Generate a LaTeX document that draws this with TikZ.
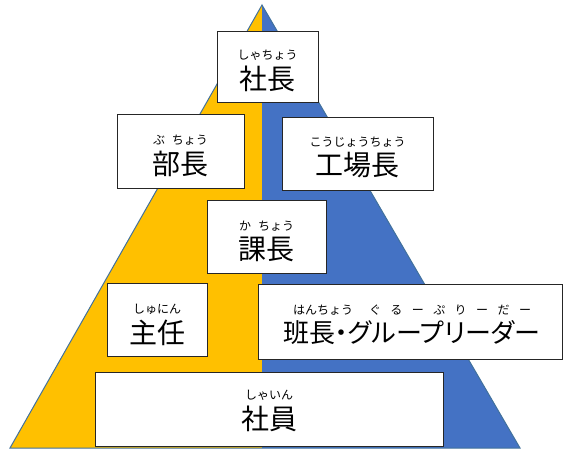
\documentclass[tikz,border=0pt]{standalone}
\usepackage{fontspec}
\setmainfont{Noto Sans CJK JP}
\newfontfamily\jpprop{Noto Sans CJK JP}[RawFeature=+palt]
\usetikzlibrary{positioning}
\definecolor{ofyellow}{HTML}{FFC000}
\definecolor{ofblue}{HTML}{4472C4}
\definecolor{ofline}{HTML}{41719C}

\begin{document}
\begin{tikzpicture}[
    x=1pt, y=-1pt,
    box/.style={rectangle, draw=black!85, line width=0.8pt, fill=white, inner sep=0pt},
    kanji/.style={inner sep=0pt, font=\fontsize{28}{30}\selectfont},
    kana/.style={inner sep=0pt, font=\fontsize{12}{14}\selectfont}
]
    \useasboundingbox (0,0) rectangle (564,450);

    % Pyramid
    \coordinate (top) at (262,5);
    \coordinate (bl) at (10,448);
    \coordinate (bm) at (262,448);
    \coordinate (br) at (520,448);
    \fill[ofyellow] (top) -- (bl) -- (bm) -- cycle;
    \fill[ofblue] (top) -- (bm) -- (br) -- cycle;
    \draw[ofline, line width=1pt] (top) -- (bl) -- (br) -- cycle;

    % Shacho
    \node[box, minimum width=101pt, minimum height=71pt] (shacho) at (267.5,66.5) {};
    \node[kanji] (shacho-t) at ([yshift=-12pt]shacho.center) {社長};
    \node[kana, above=5pt of shacho-t] (shacho-k) {しゃちょう};

    % Bucho and Kojocho
    \node[box, minimum width=127pt, minimum height=74pt] (bucho) at (180.5,151) {};
    \node[kanji] (bucho-t) at ([yshift=-13pt]bucho.center) {部長};
    \node[kana, above=5pt of bucho-t] (bucho-k) {ぶ\hspace{7pt}ちょう};

    \node[box, minimum width=151pt, minimum height=73pt] (kojo) at (357.5,153.5) {};
    \node[kanji] (kojo-t) at ([yshift=-12pt]kojo.center) {工場長};
    \node[kana, above=5pt of kojo-t] (kojo-k) {こうじょうちょう};

    % Kacho
    \node[box, minimum width=119pt, minimum height=73pt] (kacho) at (266.5,236.5) {};
    \node[kanji] (kacho-t) at ([yshift=-13pt]kacho.center) {課長};
    \node[kana, above=5pt of kacho-t] (kacho-k) {か\hspace{7pt}ちょう};

    % Shunin and Hancho
    \node[box, minimum width=100pt, minimum height=73pt] (shunin) at (157,319.5) {};
    \node[kanji] (shunin-t) at ([yshift=-13pt]shunin.center) {主任};
    \node[kana, above=5pt of shunin-t] (shunin-k) {しゅにん};

    \node[box, minimum width=304pt, minimum height=75pt] (hancho) at (410,321.5) {};
    \node[kanji, font=\fontsize{26}{28}\selectfont] (hancho-t) at ([xshift=2pt,yshift=-11pt]hancho.center) {班長{\jpprop ・グループリーダー}};
    \node[kana, above=5pt of hancho-t] (hancho-k) {はんちょう\hspace{16pt}\makebox[162pt][s]{ぐ る ー ぷ り ー だ ー}};

    % Shain
    \node[box, minimum width=348pt, minimum height=74pt] (shain) at (269,409) {};
    \node[kanji] (shain-t) at ([yshift=-10pt]shain.center) {社員};
    \node[kana, above=5pt of shain-t] (shain-k) {しゃいん};
\end{tikzpicture}
\end{document}
